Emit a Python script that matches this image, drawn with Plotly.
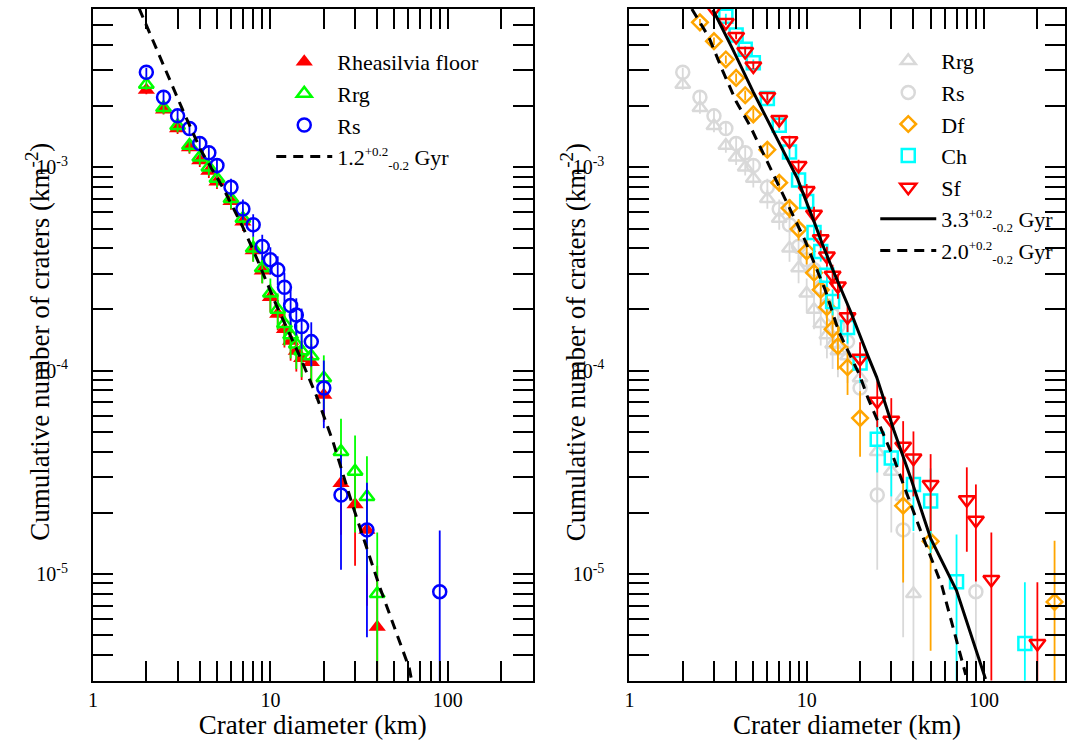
import plotly.graph_objects as go

# ---------------- data ----------------
# Left panel
D_floor = [2, 2.5, 3, 3.5, 4, 4.5, 5, 6, 7, 8, 9, 10, 11, 12, 13, 14, 15, 17, 20, 25, 30, 35, 40]
N_floor = [2.4e-3, 1.92e-3, 1.55e-3, 1.25e-3, 1.08e-3, 9.6e-4, 8.5e-4, 6.8e-4, 5.4e-4, 3.9e-4, 3.1e-4,
           2.3e-4, 1.9e-4, 1.6e-4, 1.4e-4, 1.25e-4, 1.15e-4, 1.1e-4, 7.6e-5, 2.8e-5, 2.2e-5, 1.65e-5, 5.5e-6]
E_floor = [1.15e-4, 1.03e-4, 9.2e-5, 8.3e-5, 7.7e-5, 7.3e-5, 6.8e-5, 6.1e-5, 5.4e-5, 4.6e-5, 4.1e-5,
           3.6e-5, 3.2e-5, 3.0e-5, 2.8e-5, 2.6e-5, 2.5e-5, 2.5e-5, 2.0e-5, 1.24e-5, 1.1e-5, 9.5e-6, 5.5e-6]

D_rrg = [2, 2.5, 3, 3.5, 4, 4.5, 5, 6, 7, 8, 9, 10, 11, 12, 13, 14, 15, 17, 20, 25, 30, 35, 40]
N_rrg = [2.55e-3, 1.96e-3, 1.6e-3, 1.28e-3, 1.12e-3, 1.0e-3, 8.8e-4, 7.0e-4, 5.6e-4, 4.0e-4, 3.2e-4,
         2.4e-4, 2.0e-4, 1.7e-4, 1.5e-4, 1.35e-4, 1.25e-4, 1.18e-4, 9.2e-5, 4.0e-5, 3.2e-5, 2.4e-5, 8.0e-6]
E_rrg = [1.43e-4, 1.25e-4, 1.13e-4, 1.01e-4, 9.5e-5, 8.9e-5, 8.4e-5, 7.5e-5, 6.7e-5, 5.7e-5, 5.1e-5,
         4.4e-5, 4.0e-5, 3.7e-5, 3.5e-5, 3.3e-5, 3.2e-5, 3.1e-5, 2.7e-5, 1.8e-5, 1.6e-5, 1.4e-5, 8.0e-6]

D_rs = [2, 2.5, 3, 3.5, 4, 4.5, 5, 6, 7, 8, 9, 10, 11, 12, 13, 14, 15, 17, 20, 25, 35, 90]
N_rs = [2.93e-3, 2.21e-3, 1.79e-3, 1.55e-3, 1.31e-3, 1.18e-3, 1.02e-3, 7.97e-4, 6.24e-4, 5.22e-4, 4.08e-4,
        3.51e-4, 3.14e-4, 2.57e-4, 2.09e-4, 1.88e-4, 1.65e-4, 1.39e-4, 8.22e-5, 2.45e-5, 1.65e-5, 8.2e-6]
E_rs = [1.55e-4, 1.35e-4, 1.21e-4, 1.13e-4, 1.04e-4, 9.8e-5, 9.1e-5, 8.1e-5, 7.1e-5, 6.6e-5, 5.8e-5,
        5.4e-5, 5.1e-5, 4.6e-5, 4.1e-5, 3.9e-5, 3.7e-5, 3.4e-5, 3.0e-5, 1.4e-5, 1.16e-5, 8.2e-6]

# 1.2 Gyr model (left)
D_m12 = [1.82, 2.2, 2.62, 3.26, 4.04, 5.46, 7.06, 8.4, 10.8, 14.7, 18.2, 22.5, 29.2, 41.2, 60.6, 62.5]
N_m12 = [6.05e-3, 4.1e-3, 2.85e-3, 1.85e-3, 1.22e-3, 7.8e-4, 5.0e-4, 3.55e-4, 2.1e-4, 1.17e-4, 7.5e-5,
         4.5e-5, 2.15e-5, 8.7e-6, 3.45e-6, 3.0e-6]

# Right panel
D_df = [2.5, 3, 3.5, 4, 4.5, 5, 6, 7, 8, 9, 10, 11, 12, 13, 14, 15, 17, 20, 35, 50, 250]
N_df = [5.16e-3, 4.17e-3, 3.39e-3, 2.75e-3, 2.26e-3, 1.82e-3, 1.22e-3, 8.4e-4, 6.3e-4, 4.97e-4, 3.86e-4,
        3.03e-4, 2.5e-4, 2.05e-4, 1.6e-4, 1.32e-4, 1.04e-4, 5.85e-5, 2.17e-5, 1.45e-5, 7.3e-6]
E_df = [1.94e-4, 1.74e-4, 1.57e-4, 1.42e-4, 1.28e-4, 1.15e-4, 9.4e-5, 7.8e-5, 6.8e-5, 6.0e-5, 5.3e-5,
        4.7e-5, 4.3e-5, 3.9e-5, 3.4e-5, 3.1e-5, 2.8e-5, 2.07e-5, 1.26e-5, 1.03e-5, 7.3e-6]

D_ch = [3.5, 4, 4.5, 5, 6, 7, 8, 9, 10, 11, 12, 13, 14, 17, 20, 25, 30, 40, 50, 70, 170]
N_ch = [5.53e-3, 4.47e-3, 3.8e-3, 3.27e-3, 2.18e-3, 1.61e-3, 1.19e-3, 8.65e-4, 6.79e-4, 4.78e-4, 3.86e-4,
        2.95e-4, 2.19e-4, 1.63e-4, 1.09e-4, 4.61e-5, 3.72e-5, 2.76e-5, 2.29e-5, 9.17e-6, 4.56e-6]
E_ch = [1.59e-4, 1.43e-4, 1.32e-4, 1.22e-4, 1.0e-4, 8.6e-5, 7.4e-5, 6.3e-5, 5.6e-5, 4.7e-5, 4.2e-5,
        3.7e-5, 3.2e-5, 2.7e-5, 2.2e-5, 1.45e-5, 1.31e-5, 1.13e-5, 1.02e-5, 6.5e-6, 4.56e-6]

D_sf = [3, 3.5, 4, 4.5, 5, 6, 7, 8, 9, 10, 11, 12, 13, 14, 15, 17, 20, 25, 30, 35, 40, 50, 80, 90, 110, 200]
N_sf = [6.0e-3, 5.15e-3, 4.4e-3, 3.71e-3, 3.15e-3, 2.23e-3, 1.72e-3, 1.35e-3, 1.02e-3, 7.68e-4, 5.87e-4,
        4.46e-4, 3.66e-4, 2.95e-4, 2.61e-4, 1.84e-4, 1.15e-4, 7.08e-5, 5.71e-5, 4.25e-5, 3.72e-5, 2.76e-5,
        2.32e-5, 1.84e-5, 9.42e-6, 4.56e-6]
E_sf = [1.66e-4, 1.54e-4, 1.42e-4, 1.31e-4, 1.2e-4, 1.01e-4, 8.9e-5, 7.9e-5, 6.9e-5, 5.9e-5, 5.2e-5,
        4.5e-5, 4.1e-5, 3.7e-5, 3.5e-5, 2.9e-5, 2.3e-5, 1.8e-5, 1.62e-5, 1.4e-5, 1.31e-5, 1.13e-5,
        1.03e-5, 9.2e-6, 6.6e-6, 4.56e-6]

# 3.3 Gyr model (solid) and 2.0 Gyr model (dashed), right panel
D_m33 = [2.96, 3.83, 5.0, 6.5, 8.87, 11.1, 12.25, 13.9, 17.7, 22.0, 24.8, 31, 38.7, 50, 70, 102]
N_m33 = [5.95e-3, 3.8e-3, 2.34e-3, 1.5e-3, 8.8e-4, 5.3e-4, 4.2e-4, 3.2e-4, 1.95e-4, 1.2e-4, 9.3e-5,
         5.1e-5, 2.95e-5, 1.5e-5, 8.3e-6, 3.05e-6]
D_m20 = [2.25, 2.81, 3.36, 4.01, 4.79, 6.26, 8.17, 9.75, 12.7, 15.2, 19.9, 22.2, 31.0, 44.9, 57.8, 78.9]
N_m20 = [6.0e-3, 4.35e-3, 2.98e-3, 2.1e-3, 1.6e-3, 9.8e-4, 6.0e-4, 4.4e-4, 2.5e-4, 1.55e-4, 9.5e-5,
         7.3e-5, 3.7e-5, 1.55e-5, 8.8e-6, 3.2e-6]

# ticks: every tick position, labelled only at the decades
x_tickvals = [1, 2, 3, 4, 5, 6, 7, 8, 9, 10, 20, 30, 40, 50, 60, 70, 80, 90, 100, 200]
x_ticktext = ["1", "", "", "", "", "", "", "", "", "10", "", "", "", "", "", "", "", "", "100", ""]
PAD = "\u00a0\u00a0\u00a0\u2009"
y_tickvals = [3e-6, 4e-6, 5e-6, 6e-6, 7e-6, 8e-6, 9e-6, 1e-5, 2e-5, 3e-5, 4e-5, 5e-5, 6e-5, 7e-5, 8e-5, 9e-5,
              1e-4, 2e-4, 3e-4, 4e-4, 5e-4, 6e-4, 7e-4, 8e-4, 9e-4, 1e-3, 2e-3, 3e-3, 4e-3, 5e-3]
y_ticktext = ["", "", "", "", "", "", "", "10<sup>-5</sup>" + PAD, "", "", "", "", "", "", "", "",
              "10<sup>-4</sup>" + PAD, "", "", "", "", "", "", "", "",
              "10<sup>-3</sup>" + PAD, "", "", "", ""]

FONT = "Liberation Serif, Times New Roman, serif"
GRAY = "#d9d9d9"
SUP = "<sup><span style='font-size:13px'>+0.2</span></sup><sub><span style='font-size:13px'>-0.2</span></sub>"
leg12 = "1.2" + SUP + " Gyr"
leg33 = "3.3" + SUP + " Gyr"
leg20 = "2.0" + SUP + " Gyr"
YTITLE = "Cumulative number of craters (km<sup>-2</sup>)"
XTITLE = "Crater diameter (km)"

X_RANGE_L = [0, 2.4771]        # 1 .. 300 km
X_RANGE_R = [0, 2.454]         # right frame ends just short of 300 km
Y_RANGE = [-5.5229, -2.2218]   # 3e-6 .. 6e-3

fig = go.Figure()


def pts(x, y, e, name, color, symbol, size, filled, xa, ya, legend, lw=2.5):
    fig.add_trace(go.Scatter(
        x=x, y=y, mode="markers", name=name, xaxis=xa, yaxis=ya, legend=legend,
        marker=dict(symbol=symbol, size=size, color=color if filled else "rgba(0,0,0,0)",
                    line=dict(color=color, width=0 if filled else lw)),
        error_y=dict(type="data", array=e, arrayminus=e, symmetric=False, color=color,
                     thickness=1.8, width=0),
    ))


# left panel
pts(D_floor, N_floor, E_floor, "Rheasilvia floor", "#ff0000", "triangle-up", 15, True, "x", "y", "legend")
pts(D_rrg, N_rrg, E_rrg, "Rrg", "#00ff00", "triangle-up", 13, False, "x", "y", "legend")
pts(D_rs, N_rs, E_rs, "Rs", "#0000ff", "circle", 13, False, "x", "y", "legend")
fig.add_trace(go.Scatter(x=D_m12, y=N_m12, mode="lines", name=leg12, xaxis="x", yaxis="y", legend="legend",
                         line=dict(color="black", width=3, dash="10px,7px")))

# right panel
pts(D_rrg, N_rrg, E_rrg, "Rrg", GRAY, "triangle-up", 13, False, "x2", "y2", "legend2")
pts(D_rs, N_rs, E_rs, "Rs", GRAY, "circle", 13, False, "x2", "y2", "legend2")
pts(D_df, N_df, E_df, "Df", "#ffa500", "diamond", 12, False, "x2", "y2", "legend2")
pts(D_ch, N_ch, E_ch, "Ch", "#00ffff", "square", 13, False, "x2", "y2", "legend2")
pts(D_sf, N_sf, E_sf, "Sf", "#ff0000", "triangle-down", 14, False, "x2", "y2", "legend2")
fig.add_trace(go.Scatter(x=D_m33, y=N_m33, mode="lines", name=leg33, xaxis="x2", yaxis="y2", legend="legend2",
                         line=dict(color="black", width=3)))
fig.add_trace(go.Scatter(x=D_m20, y=N_m20, mode="lines", name=leg20, xaxis="x2", yaxis="y2", legend="legend2",
                         line=dict(color="black", width=3, dash="10px,7px")))

W, H = 1067, 745
XL = [88.5 / W, 531 / W]
XR = [628.5 / W, 1066.5 / W]
YD = [(H - 680.5) / H, (H - 9) / H]

TICKFONT = dict(family=FONT, size=20, color="black")
TITLEFONT = dict(family=FONT, size=27, color="black")

common = dict(type="log", showline=True, linecolor="black", linewidth=2, mirror="ticks",
              ticks="inside", ticklen=20, tickwidth=2, tickcolor="black", showgrid=False,
              zeroline=False, tickfont=TICKFONT)


def ax_x(domain, anchor, rng):
    return dict(common, domain=domain, anchor=anchor, range=rng, tickmode="array",
                tickvals=x_tickvals, ticktext=x_ticktext,
                title=dict(text=XTITLE, font=TITLEFONT, standoff=2))


def ax_y(anchor):
    return dict(common, domain=YD, anchor=anchor, range=Y_RANGE, tickmode="array",
                tickvals=y_tickvals, ticktext=y_ticktext)


legend_common = dict(font=dict(family=FONT, size=22, color="black"), bgcolor="rgba(0,0,0,0)",
                     borderwidth=0, itemsizing="trace", itemwidth=56, tracegroupgap=0,
                     xanchor="left", yanchor="top")

ycen = (H - 342) / H
fig.update_layout(
    width=W, height=H, margin=dict(l=0, r=0, t=0, b=0),
    paper_bgcolor="white", plot_bgcolor="white",
    font=dict(family=FONT, color="black"),
    xaxis=ax_x(XL, "y", X_RANGE_L), yaxis=ax_y("x"),
    xaxis2=ax_x(XR, "y2", X_RANGE_R), yaxis2=ax_y("x2"),
    legend=dict(legend_common, x=268 / W, y=(H - 41) / H),
    legend2=dict(legend_common, x=876 / W, y=(H - 40) / H),
    annotations=[
        dict(text=YTITLE, textangle=-90, xref="paper", yref="paper", x=33 / W, y=ycen,
             xanchor="center", yanchor="middle", showarrow=False, font=TITLEFONT),
        dict(text=YTITLE, textangle=-90, xref="paper", yref="paper", x=572 / W, y=ycen,
             xanchor="center", yanchor="middle", showarrow=False, font=TITLEFONT),
    ],
)

fig.write_html("out.html")
